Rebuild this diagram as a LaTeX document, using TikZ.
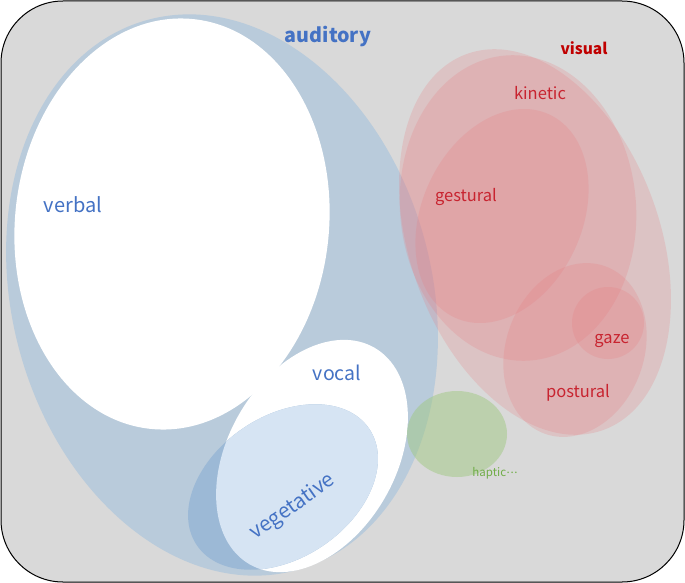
\documentclass[tikz,border=0pt]{standalone}
\usepackage{fontspec}
\setmainfont{Noto Sans CJK JP}
\definecolor{bgray}{RGB}{217,217,217}
\definecolor{audblue}{RGB}{185,203,219}
\definecolor{vegdark}{RGB}{156,185,214}
\definecolor{veglight}{RGB}{214,228,243}
\definecolor{txtblue}{RGB}{68,114,196}
\definecolor{txtred}{RGB}{200,36,48}
\definecolor{visred}{RGB}{192,0,0}
\definecolor{pinkfill}{RGB}{232,120,125}
\definecolor{greenfill}{RGB}{160,200,130}
\definecolor{txtgreen}{RGB}{112,173,71}
\tikzset{
  pinkell/.style={fill=pinkfill, fill opacity=0.22},
  bluelab/.style={text=txtblue, font=\fontsize{20}{22}\selectfont, inner sep=0pt},
  redlab/.style={text=txtred, font=\fontsize{16.5}{18}\selectfont, inner sep=0pt},
}
\begin{document}
\begin{tikzpicture}[x=1pt,y=-1pt]
\useasboundingbox (0,0) rectangle (685,583);
% background
\draw[fill=bgray, draw=black, line width=1pt, rounded corners=62pt] (1,1) rectangle (684,582);
% auditory
\fill[audblue, rotate around={15:(222,295)}] (222,295) ellipse [x radius=210pt, y radius=285pt];
% verbal
\fill[white, rotate around={-6:(172,224)}] (172,224) ellipse [x radius=157pt, y radius=206pt];
% vocal
\fill[white, rotate around={60:(312,456)}] (312,456) ellipse [x radius=125pt, y radius=84pt];
% vegetative
\fill[vegdark, rotate around={34:(283,487)}] (283,487) ellipse [x radius=104pt, y radius=71pt];
\begin{scope}
  \clip[rotate around={60:(312,456)}] (312,456) ellipse [x radius=125pt, y radius=84pt];
  \fill[veglight, rotate around={34:(283,487)}] (283,487) ellipse [x radius=104pt, y radius=71pt];
\end{scope}
% haptic
\fill[greenfill, fill opacity=0.5] (457,434) ellipse [x radius=50pt, y radius=43pt];
% visual group
\fill[pinkell, rotate around={20:(535,242)}] (535,242) ellipse [x radius=125pt, y radius=200pt];
\fill[pinkell, rotate around={5:(518,208)}] (518,208) ellipse [x radius=118pt, y radius=153pt];
\fill[pinkell, rotate around={-25:(502,216)}] (502,216) ellipse [x radius=80pt, y radius=112pt];
\fill[pinkell, rotate around={-20:(575,350)}] (575,350) ellipse [x radius=69pt, y radius=89pt];
\fill[pinkell] (608,323) circle [radius=36pt];
% labels
\node[text=txtblue, font=\fontsize{19.7}{21}\selectfont\bfseries, inner sep=0pt] (auditory) at (328,36) {auditory};
\node[bluelab] (verbal) at (73,205) {verbal};
\node[bluelab, font=\fontsize{19.5}{21}\selectfont] (vocal) at (337,373) {vocal};
\node[bluelab, rotate=35, font=\fontsize{20.5}{22}\selectfont] (vegetative) at (293,507) {vegetative};
\node[text=visred, font=\fontsize{15.5}{17}\selectfont\bfseries, inner sep=0pt] (visual) at (584,48) {visual};
\node[redlab] (kinetic) at (540,93) {kinetic};
\node[redlab] (gestural) at (466,197) {gestural};
\node[redlab] (gaze) at (612,341) {gaze};
\node[redlab] (postural) at (578,393) {postural};
\node[text=txtgreen, font=\fontsize{11.5}{13}\selectfont, inner sep=0pt] (haptic) at (495,473) {haptic\kern0.5pt\raisebox{0.27em}{.\kern0.6pt.\kern0.6pt.}};
\end{tikzpicture}
\end{document}
